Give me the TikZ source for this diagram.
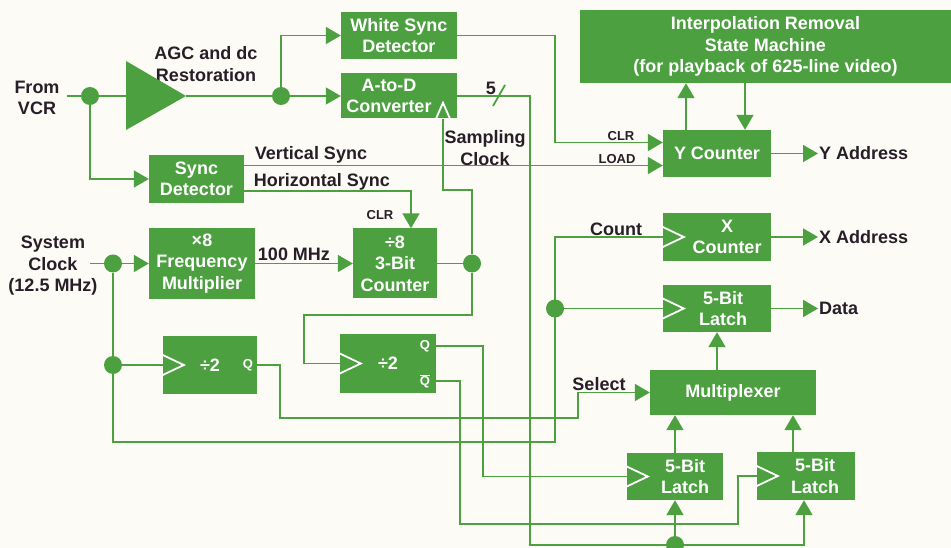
\documentclass[tikz,border=0pt]{standalone}
\usepackage{fontspec}
\setmainfont{Liberation Sans}
\usetikzlibrary{arrows.meta}
\definecolor{hpgreen}{RGB}{76,160,64}
\definecolor{hpink}{RGB}{40,30,40}
\definecolor{paper}{RGB}{252,251,246}
\tikzset{boxtxt/.style={text=white,font=\bfseries\fontsize{18}{21.5}\selectfont,align=center,inner sep=0pt},
box/.style={boxtxt,rectangle,fill=hpgreen},
lbl/.style={text=hpink,font=\bfseries\fontsize{18}{21.5}\selectfont,align=center,inner sep=1pt},
small/.style={text=hpink,font=\bfseries\fontsize{13}{15}\selectfont,inner sep=0pt},
dot/.style={circle,fill=hpgreen,minimum size=18pt,inner sep=0pt},
wire/.style={draw=hpgreen,line width=1.8pt},
arr/.style={-{Triangle[length=15pt,width=17pt]}}}
\newcommand{\clkin}[1]{\draw[white,line width=1.8pt] ([yshift=10pt]#1.west) -- ([xshift=21pt]#1.west) -- ([yshift=-10pt]#1.west);}

\begin{document}
\begin{tikzpicture}[x=1pt,y=-1pt]
\useasboundingbox (0,0) rectangle (951,548);
\fill[paper] (0,0) rectangle (951,548);
% blocks
\node[box,minimum width=116pt,minimum height=47pt] (wsd) at (399,35.5) {White Sync\\Detector};
\node[box,minimum width=116pt,minimum height=45pt,label={[boxtxt,xshift=-10pt]center:{A-to-D\\Converter}}] (adc) at (399,96) {};
\node[box,minimum width=371pt,minimum height=73pt] (ism) at (765.5,46.5) {Interpolation Removal\\State Machine\\(for playback of 625-line video)};
\node[box,minimum width=108pt,minimum height=47pt] (ycnt) at (717,153.5) {Y Counter};
\node[box,minimum width=95pt,minimum height=48pt] (sync) at (196.5,179) {Sync\\Detector};
\node[box,minimum width=106pt,minimum height=71pt] (fmul) at (202,263.5) {×8\\Frequency\\Multiplier};
\node[box,minimum width=84pt,minimum height=70pt] (div8) at (395,263.5) {÷8\\3-Bit\\Counter};
\node[box,minimum width=108pt,minimum height=48pt,label={[boxtxt,xshift=10pt]center:{X\\Counter}}] (xcnt) at (717,237) {};
\node[box,minimum width=108pt,minimum height=47pt,label={[boxtxt,xshift=6pt]center:{5-Bit\\Latch}}] (dlatch) at (717,308.5) {};
\node[box,minimum width=94pt,minimum height=58pt] (divA) at (210,365) {÷2};
\node[box,minimum width=96pt,minimum height=59pt] (divB) at (388,363.5) {÷2};
\node[box,minimum width=166pt,minimum height=45pt] (mux) at (733,392.5) {Multiplexer};
\node[box,minimum width=96pt,minimum height=47pt,label={[boxtxt,xshift=10pt]center:{5-Bit\\Latch}}] (latA) at (675,476.5) {};
\node[box,minimum width=98pt,minimum height=48pt,label={[boxtxt,xshift=9pt]center:{5-Bit\\Latch}}] (latB) at (806,476) {};
% labels
\node[lbl] (vcr) at (37,98) {From\\VCR};
\node[lbl] (agc) at (206,64) {AGC and dc\\Restoration};
\node[lbl] (sysclk) at (53,266) {System\\Clock\\(12.5 MHz)};
\node[lbl] (vsync) at (311,155) {Vertical Sync};
\node[lbl] (hsync) at (322,182) {Horizontal Sync};
\node[lbl] (sampclk) at (485,148) {Sampling\\Clock};
\node[lbl] (mhz) at (294,254) {100 MHz};
\node[lbl] (count) at (616,229) {Count};
\node[lbl] (select) at (599,384) {Select};
\node[lbl] (bits) at (491,88) {5};
\node[lbl,anchor=west] (yaddr) at (818,153.5) {Y Address};
\node[lbl,anchor=west] (xaddr) at (818,237) {X Address};
\node[lbl,anchor=west] (data) at (818,308.5) {Data};
\node[small] (clry) at (621,136) {CLR};
\node[small] (load) at (617,159) {LOAD};
\node[small] (clr8) at (380,215) {CLR};
\node[small,text=white] (qa) at (248,365) {Q};
\node[small,text=white] (qb) at (425,346) {Q};
\node[small,text=white] (qbn) at (425,381) {$\overline{\hbox{Q}}$};
% junctions and free ends
\coordinate (vcrin) at (67,96);
\coordinate (ampin) at (126,96);
\coordinate (ampout) at (186,96);
\coordinate (clkin) at (90,263.5);
\coordinate (adcclk) at ([xshift=44pt]adc.south);
\coordinate (yup) at ([xshift=-31pt]ycnt.north);
\coordinate (ydn) at ([xshift=28pt]ycnt.north);
\coordinate (lbup) at ([xshift=-13pt]latB.north);
\node[dot] (j1) at (90,96) {};
\node[dot] (j2) at (281,96) {};
\node[dot] (j3) at (113,263.5) {};
\node[dot] (j4) at (113,365) {};
\node[dot] (j5) at (472,263.5) {};
\node[dot] (j6) at (555,308.5) {};
\node[dot] (j7) at (675,545) {};
% amplifier
\fill[hpgreen] (126,61) -- (ampout) -- (126,130) -- cycle;
% video path
\draw[wire] (vcrin) -- (ampin);
\draw[wire,arr] (ampout) -- (adc.west);
\draw[wire,arr] (j2) |- (wsd.west);
\draw[wire,arr] (j1) |- (sync.west);
\draw[wire,arr] (wsd.east) -- (555,35.5) |- ([yshift=11pt]ycnt.west);
\draw[wire,arr] ([yshift=13.5pt]sync.east) -- ([yshift=-12pt]ycnt.west);
\draw[wire,arr] ([yshift=-12pt]sync.east) -| ([xshift=16pt]div8.north);
\draw[wire] (adc.east) -- (530,96) |- (j7);
\draw[wire] (493,106) -- (505,85);
\draw[wire,arr] (j7) -- (latA.south);
\draw[wire,arr] (j7) -| ([xshift=-2pt]latB.south);
\draw[wire,arr] (latA.north) -- (latA.north |- mux.south);
\draw[wire,arr] (lbup) -- (mux.south -| lbup);
\draw[wire,arr] (dlatch.south |- mux.north) -- (dlatch.south);
\draw[wire,arr] (yup) -- (ism.south -| yup);
\draw[wire,arr] (ism.south -| ydn) -- (ydn);
\draw[wire,arr] (ycnt.east) -- (yaddr.west);
\draw[wire,arr] (xcnt.east) -- (xaddr.west);
\draw[wire,arr] (dlatch.east) -- (data.west);
% clocks
\draw[wire,arr] (clkin) -- (fmul.west);
\draw[wire,arr] (fmul.east) -- (div8.west);
\draw[wire] (div8.east) -- (j5);
\draw[wire] (j5) -- (472,190) -| (adcclk);
\draw[wire] (j5) |- (304,315) |- (divB.west);
\draw[wire] (j3) |- (555,442) |- (xcnt.west);
\draw[wire] (j6) -- (dlatch.west);
\draw[wire] (j4) -- (divA.west);
\draw[wire,arr] (divA.east) -- (280,365) |- (578,418) |- (mux.west);
\draw[wire] ([yshift=17.5pt]divB.east) -- (483,346) |- (latA.west);
\draw[wire] ([yshift=-17.5pt]divB.east) -- (460,381) |- (738,524) |- (latB.west);
% clock inputs
\clkin{xcnt}
\clkin{dlatch}
\clkin{latA}
\clkin{latB}
\clkin{divA}
\clkin{divB}
\draw[white,line width=1.8pt] ([xshift=-7pt]adcclk) -- ([yshift=16pt]adcclk) -- ([xshift=7pt]adcclk);
\end{tikzpicture}
\end{document}
